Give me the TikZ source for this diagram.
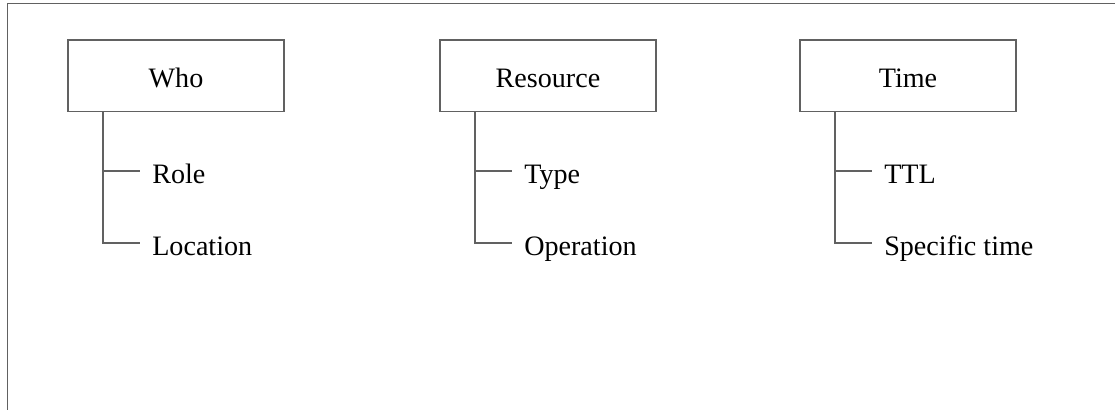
\documentclass[tikz,border=0pt]{standalone}
\usepackage{fontspec}
\setmainfont{Liberation Serif}
\tikzset{
  line/.style={line width=1.2pt,draw=black!62},
  box/.style={line,minimum width=5.4cm,minimum height=1.79cm,inner sep=0pt,
    text height=0.6cm,text depth=0pt,font=\fontsize{20pt}{23pt}\selectfont},
  leaf/.style={anchor=west,inner sep=0pt,text height=0.62cm,text depth=0pt,
    font=\fontsize{20pt}{23pt}\selectfont}
}
\begin{document}
\begin{tikzpicture}
  \useasboundingbox (0,0) rectangle (27.875,-10.25);
  %frame
  \draw[line] (0.19,-10.25) -- (0.19,-0.09) -- (27.875,-0.09);

  %who
  \node[box] (who) at (4.4,-1.894) {Who\hspace{0.35cm}};
  \node[leaf] (role) at (3.8,-4.27) {Role};
  \node[leaf] (loc) at (3.8,-6.08) {Location};
    \draw[line] (who.south west) ++(0.9,0) |- ([xshift=-0.3cm]loc.west);
    \draw[line] ([xshift=-1.2cm]role.west) -- ([xshift=-0.3cm]role.west);

  %resource
  \node[box] (res) at (13.7,-1.894) {Resource\hspace{0.35cm}};
  \node[leaf] (type) at (13.1,-4.27) {Type};
  \node[leaf] (oper) at (13.1,-6.08) {Operation};
    \draw[line] (res.south west) ++(0.9,0) |- ([xshift=-0.3cm]oper.west);
    \draw[line] ([xshift=-1.2cm]type.west) -- ([xshift=-0.3cm]type.west);

  %time
  \node[box] (time) at (22.7,-1.894) {Time\hspace{0.35cm}};
  \node[leaf] (ttl) at (22.1,-4.27) {TTL};
  \node[leaf] (spec) at (22.1,-6.08) {Specific time};
    \draw[line] (time.south west) ++(0.9,0) |- ([xshift=-0.3cm]spec.west);
    \draw[line] ([xshift=-1.2cm]ttl.west) -- ([xshift=-0.3cm]ttl.west);
\end{tikzpicture}
\end{document}
